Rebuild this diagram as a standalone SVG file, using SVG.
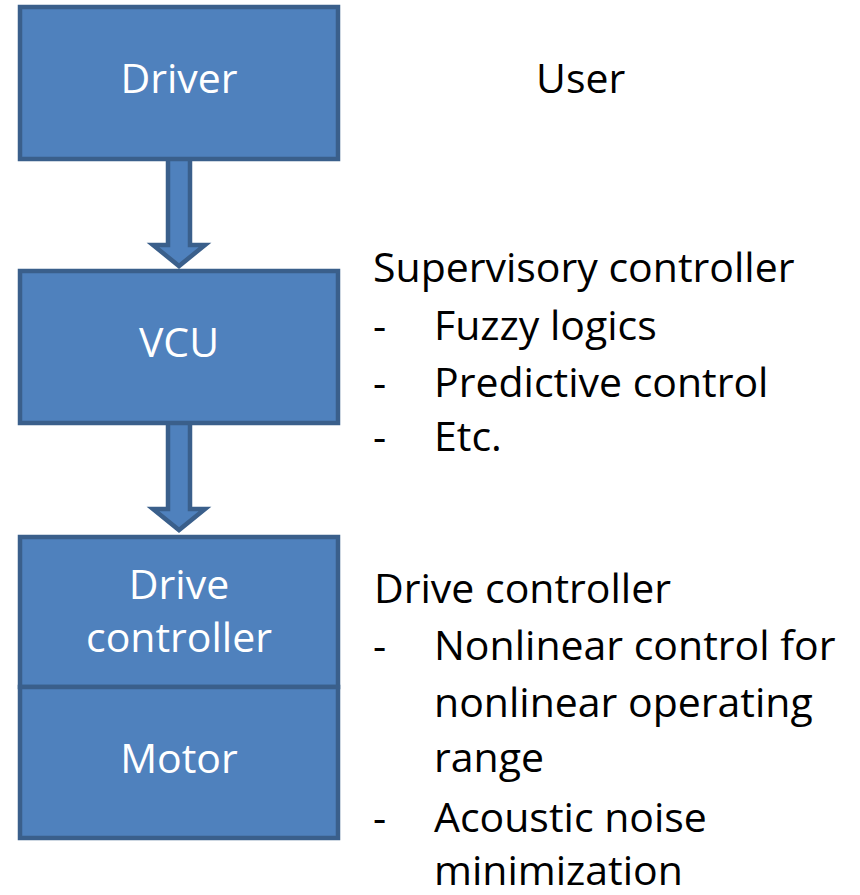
<svg xmlns="http://www.w3.org/2000/svg" width="860" height="895" viewBox="0 0 860 895">
<style>
.box{fill:#4F81BD;stroke:#3A5F8B;stroke-width:4.5}
.arr{fill:#4F81BD;stroke:#3A5F8B;stroke-width:4.5;stroke-linejoin:miter}
.bt{font-family:"Open Sans","Liberation Sans",sans-serif;font-size:41px;fill:#FFFFFF;text-anchor:middle}
.t{font-family:"Open Sans","Liberation Sans",sans-serif;font-size:41px;fill:#000000}
</style>
<rect width="860" height="895" fill="#FFFFFF"/>
<g id="connectors">
<path class="arr" d="M168,158 L190,158 L190,245 L205,245 L179,266 L153,245 L168,245 Z"/>
<path class="arr" d="M168,422 L190,422 L190,509 L205,509 L179,530 L153,509 L168,509 Z"/>
</g>
<g id="driver">
<rect class="box" x="20" y="7" width="318" height="152"/>
<text class="bt" x="179" y="93">Driver</text>
</g>
<g id="vcu">
<rect class="box" x="20" y="271" width="318" height="152"/>
<text class="bt" x="179" y="357">VCU</text>
</g>
<g id="drive-controller">
<rect class="box" x="20" y="537" width="318" height="150"/>
<text class="bt" x="179" y="599">Drive</text>
<text class="bt" x="179" y="652">controller</text>
</g>
<g id="motor">
<rect class="box" x="20" y="687" width="318" height="151"/>
<text class="bt" x="179" y="773">Motor</text>
</g>
<g id="user">
<text class="t" x="536" y="93">User</text>
</g>
<g id="supervisory">
<text class="t" x="373" y="282">Supervisory controller</text>
<text class="t" x="373" y="340">-</text>
<text class="t" x="434" y="340">Fuzzy logics</text>
<text class="t" x="373" y="397">-</text>
<text class="t" x="434" y="397">Predictive control</text>
<text class="t" x="373" y="451">-</text>
<text class="t" x="434" y="451">Etc.</text>
</g>
<g id="drive-notes">
<text class="t" x="374" y="603">Drive controller</text>
<text class="t" x="373" y="660">-</text>
<text class="t" x="434" y="660">Nonlinear control for</text>
<text class="t" x="434" y="717">nonlinear operating</text>
<text class="t" x="434" y="772">range</text>
<text class="t" x="373" y="832">-</text>
<text class="t" x="434" y="832">Acoustic noise</text>
<text class="t" x="434" y="885">minimization</text>
</g>
</svg>
